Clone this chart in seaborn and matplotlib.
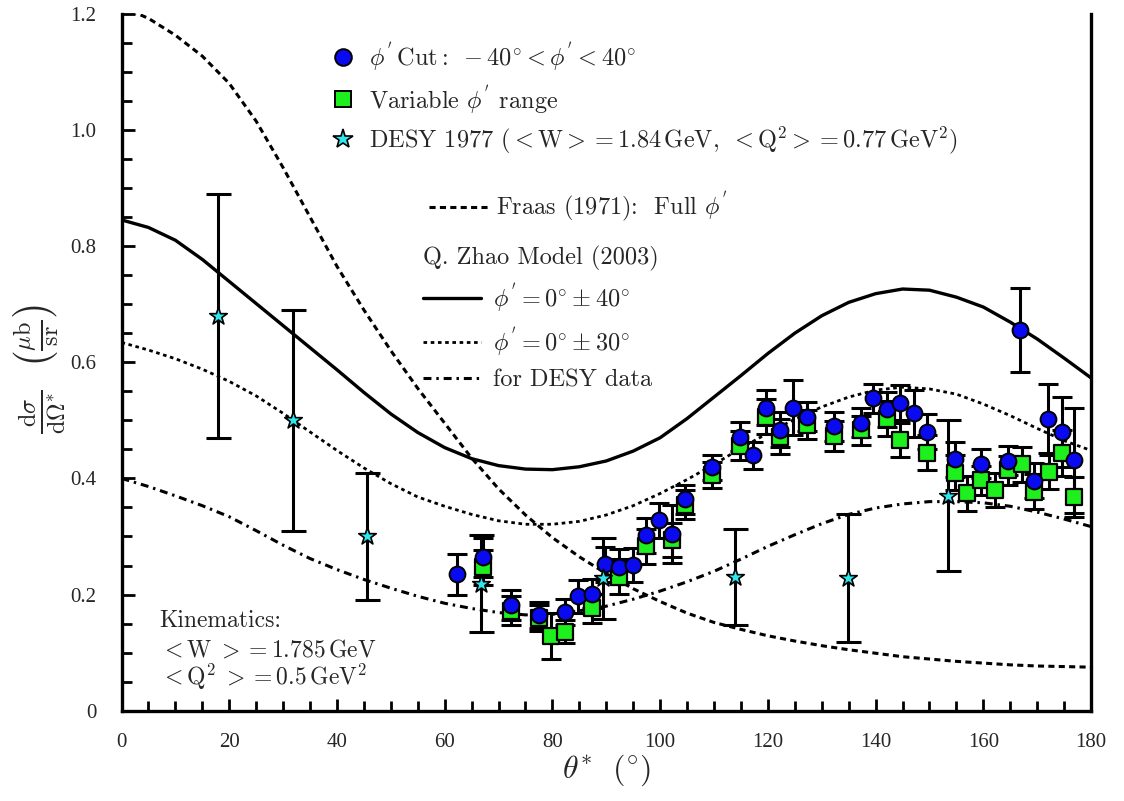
import matplotlib
matplotlib.use("Agg")
import numpy as np
import pandas as pd
import matplotlib.pyplot as plt
import seaborn as sns
from matplotlib.lines import Line2D
from matplotlib.ticker import MultipleLocator, FixedLocator, FixedFormatter

# ---------------- data ----------------
# phi' cut: -40 < phi' < 40 (blue circles)
circ_x = [62.3, 67.1, 72.3, 77.5, 82.3, 84.8, 87.4, 89.7, 92.3, 94.9, 97.3, 99.7,
          102.2, 104.7, 109.6, 114.8, 117.2, 119.7, 122.2, 124.7, 127.3, 132.2,
          137.2, 139.6, 142.1, 144.6, 147.1, 149.5, 154.7, 159.6, 164.6, 166.8,
          169.4, 172.0, 174.6, 176.9]
circ_y = [0.235, 0.264, 0.182, 0.165, 0.170, 0.197, 0.201, 0.252, 0.248, 0.251, 0.302, 0.328,
          0.305, 0.364, 0.419, 0.472, 0.440, 0.522, 0.484, 0.522, 0.506, 0.490,
          0.496, 0.538, 0.519, 0.530, 0.512, 0.480, 0.433, 0.425, 0.430, 0.655,
          0.396, 0.503, 0.480, 0.431]
circ_err = [0.035, 0.034, 0.025, 0.022, 0.023, 0.028, 0.025, 0.030, 0.030, 0.030, 0.030, 0.030,
            0.050, 0.025, 0.022, 0.025, 0.023, 0.030, 0.030, 0.048, 0.025, 0.025,
            0.025, 0.025, 0.030, 0.030, 0.040, 0.030, 0.030, 0.025, 0.025, 0.072,
            0.030, 0.060, 0.060, 0.090]

# variable phi' range (green squares)
sq_x = [67.1, 72.3, 77.5, 79.8, 82.3, 87.4, 92.3, 97.3, 102.2, 104.7, 109.6, 114.8,
        119.7, 122.2, 127.3, 132.2, 137.2, 142.1, 144.5, 149.5, 154.7, 156.9, 159.6,
        162.1, 164.6, 167.2, 169.4, 172.1, 174.6, 176.9]
sq_y = [0.247, 0.172, 0.160, 0.129, 0.136, 0.176, 0.231, 0.283, 0.294, 0.355, 0.406, 0.456,
        0.506, 0.472, 0.492, 0.473, 0.483, 0.503, 0.466, 0.444, 0.410, 0.374, 0.397,
        0.380, 0.414, 0.424, 0.377, 0.411, 0.444, 0.368]
sq_err = [0.030, 0.025, 0.022, 0.040, 0.020, 0.025, 0.030, 0.030, 0.030, 0.025, 0.022, 0.025,
          0.030, 0.030, 0.025, 0.025, 0.025, 0.030, 0.030, 0.030, 0.030, 0.030, 0.025,
          0.030, 0.025, 0.030, 0.030, 0.030, 0.040, 0.035]

# DESY 1977 (cyan stars)
star_x = [18.0, 31.9, 45.6, 66.8, 89.4, 113.9, 134.8, 153.4]
star_y = [0.680, 0.500, 0.300, 0.219, 0.228, 0.230, 0.229, 0.370]
star_err = [0.210, 0.190, 0.110, 0.083, 0.070, 0.082, 0.110, 0.130]

# model curves sampled every 5 degrees
theta = [0, 5, 10, 15, 20, 25, 30, 35, 40, 45, 50, 55, 60, 65, 70, 75, 80, 85, 90,
         95, 100, 105, 110, 115, 120, 125, 130, 135, 140, 145, 150, 155, 160, 165,
         170, 175, 180]
zhao_40 = [0.845, 0.832, 0.810, 0.777, 0.739, 0.701, 0.663, 0.625, 0.587, 0.548, 0.511,
           0.479, 0.453, 0.434, 0.422, 0.416, 0.415, 0.420, 0.430, 0.447, 0.470, 0.503,
           0.540, 0.577, 0.615, 0.650, 0.680, 0.703, 0.718, 0.726, 0.724, 0.712, 0.695,
           0.669, 0.640, 0.607, 0.573]
fraas = [1.212, 1.192, 1.163, 1.127, 1.080, 1.015, 0.935, 0.850, 0.765, 0.690, 0.620,
         0.555, 0.495, 0.435, 0.382, 0.337, 0.298, 0.265, 0.236, 0.210, 0.188, 0.168,
         0.152, 0.140, 0.129, 0.120, 0.112, 0.105, 0.099, 0.093, 0.089, 0.085, 0.082,
         0.079, 0.077, 0.076, 0.075]
zhao_30 = [0.634, 0.621, 0.606, 0.588, 0.567, 0.542, 0.512, 0.480, 0.448, 0.418, 0.391,
           0.368, 0.352, 0.338, 0.327, 0.321, 0.321, 0.326, 0.337, 0.353, 0.374, 0.398,
           0.424, 0.452, 0.478, 0.502, 0.523, 0.540, 0.552, 0.557, 0.554, 0.545, 0.528,
           0.508, 0.486, 0.465, 0.448]
zhao_desy = [0.400, 0.386, 0.370, 0.353, 0.334, 0.310, 0.285, 0.262, 0.243, 0.226, 0.211,
             0.197, 0.185, 0.176, 0.169, 0.165, 0.166, 0.172, 0.180, 0.192, 0.206, 0.222,
             0.240, 0.261, 0.283, 0.303, 0.322, 0.338, 0.349, 0.356, 0.360, 0.360, 0.358,
             0.352, 0.342, 0.330, 0.317]

xtick_vals = [0, 20, 40, 60, 80, 100, 120, 140, 160, 180]
xtick_labels = ["0", "20", "40", "60", "80", "100", "120", "140", "160", "180"]
ytick_vals = [0, 0.2, 0.4, 0.6, 0.8, 1.0, 1.2]
ytick_labels = ["0", "0.2", "0.4", "0.6", "0.8", "1.0", "1.2"]

# ---------------- style ----------------
sns.set_theme(style="ticks")
plt.rcParams["font.family"] = ["Liberation Serif", "DejaVu Serif"]
plt.rcParams["mathtext.fontset"] = "cm"

BLUE = "#0a0af0"
GREEN = "#1ef01e"
CYAN = "#2ee8ee"
CM = ["cmr10", "DejaVu Serif"]

fig = plt.figure(figsize=(11.24, 8.01), dpi=100)
ax = fig.add_axes([0.1081, 0.1127, 0.8626, 0.8702])
ax.set_facecolor("white")
fig.patch.set_facecolor("white")

curves = pd.DataFrame({"theta": theta, "z40": zhao_40, "fraas": fraas,
                       "z30": zhao_30, "zdesy": zhao_desy})

LS_FRAAS = (0, (2.0, 1.4))
LS_30 = (0, (1.3, 1.3))
LS_DESY = (0, (2.6, 1.6, 0.8, 1.6))

sns.lineplot(data=curves, x="theta", y="z40", ax=ax, color="black", lw=2.4,
             estimator=None, sort=False, zorder=2)
sns.lineplot(data=curves, x="theta", y="fraas", ax=ax, color="black", lw=2.2,
             linestyle=LS_FRAAS, estimator=None, sort=False, zorder=2)
sns.lineplot(data=curves, x="theta", y="z30", ax=ax, color="black", lw=2.0,
             linestyle=LS_30, estimator=None, sort=False, zorder=2)
sns.lineplot(data=curves, x="theta", y="zdesy", ax=ax, color="black", lw=2.2,
             linestyle=LS_DESY, estimator=None, sort=False, zorder=2)

# error bars
ax.errorbar(star_x, star_y, yerr=star_err, fmt="none", ecolor="black",
            elinewidth=2.2, capsize=9, capthick=2.2, zorder=3)
ax.errorbar(sq_x, sq_y, yerr=sq_err, fmt="none", ecolor="black",
            elinewidth=2.2, capsize=7.5, capthick=2.2, zorder=3)
ax.errorbar(circ_x, circ_y, yerr=circ_err, fmt="none", ecolor="black",
            elinewidth=2.2, capsize=7.5, capthick=2.2, zorder=3)

sns.scatterplot(x=sq_x, y=sq_y, ax=ax, marker="s", s=120, color=GREEN,
                edgecolor="black", linewidth=1.6, zorder=4)
sns.scatterplot(x=circ_x, y=circ_y, ax=ax, marker="o", s=130, color=BLUE,
                edgecolor="black", linewidth=1.4, zorder=5)
sns.scatterplot(x=star_x, y=star_y, ax=ax, marker="*", s=175, color=CYAN,
                edgecolor="black", linewidth=1.2, zorder=6)

# axes
ax.set_xlim(0, 180)
ax.set_ylim(0, 1.2)
ax.xaxis.set_major_locator(FixedLocator(xtick_vals))
ax.xaxis.set_major_formatter(FixedFormatter(xtick_labels))
ax.yaxis.set_major_locator(FixedLocator(ytick_vals))
ax.yaxis.set_major_formatter(FixedFormatter(ytick_labels))
ax.xaxis.set_minor_locator(MultipleLocator(5))
ax.yaxis.set_minor_locator(MultipleLocator(0.05))
ax.tick_params(axis="both", which="both", direction="in", color="black",
               width=2.0, top=False, right=False)
ax.tick_params(axis="both", which="major", length=9)
ax.tick_params(axis="both", which="minor", length=7)
ax.tick_params(axis="y", which="major", labelsize=15, pad=18)
ax.tick_params(axis="x", which="major", labelsize=15, pad=16)
for side in ["left", "bottom", "right"]:
    ax.spines[side].set_linewidth(2.4)
    ax.spines[side].set_color("black")
ax.spines["top"].set_visible(False)
ax.grid(False)

ax.set_xlabel(r"$\theta^{*}\ \ (^{\circ})$", fontsize=23, va="center")
ax.xaxis.set_label_coords(0.5, -0.085)
ax.set_ylabel(r"$\frac{\mathrm{d}\sigma}{\mathrm{d}\Omega^{*}}\ \ \left(\frac{\mu\mathrm{b}}{\mathrm{sr}}\right)$",
              fontsize=25, va="center")
ax.yaxis.set_label_coords(-0.084, 0.49)

# kinematics text
ax.text(7.1, 0.145, "Kinematics:", fontsize=17, va="baseline", ha="left", family=CM)
ax.text(7.1, 0.093, r"$<\mathrm{W}\ >=1.785\,\mathrm{GeV}$", fontsize=17, va="baseline", ha="left")
ax.text(7.1, 0.045, r"$<\mathrm{Q}^{2}\ >=0.5\,\mathrm{GeV}^{2}$", fontsize=17, va="baseline", ha="left")

LEG_FS = 17.5

# legend 1: data
h1 = [Line2D([], [], ls="", marker="o", markersize=12, mfc=BLUE, mec="black", mew=1.4),
      Line2D([], [], ls="", marker="s", markersize=11, mfc=GREEN, mec="black", mew=1.4),
      Line2D([], [], ls="", marker="*", markersize=15, mfc=CYAN, mec="black", mew=1.2)]
l1 = [r"$\phi^{'}\,\mathrm{Cut}:\ -40^{\circ} < \phi^{'} < 40^{\circ}$",
      r"Variable $\phi^{'}$ range",
      r"DESY 1977 $(<\mathrm{W}>=1.84\,\mathrm{GeV},\ <\mathrm{Q}^{2}>=0.77\,\mathrm{GeV}^{2})$"]
leg1 = ax.legend(h1, l1, loc="upper left", bbox_to_anchor=(0.203, 0.979), frameon=False,
                 prop={"family": CM, "size": LEG_FS}, handlelength=1.0,
                 handletextpad=0.6, labelspacing=0.38, borderpad=0.0)
ax.add_artist(leg1)

# legend 2: Fraas
h2 = [Line2D([], [], color="black", lw=2.2, linestyle=LS_FRAAS)]
l2 = [r"Fraas (1971):  Full $\phi^{'}$"]
leg2 = ax.legend(h2, l2, loc="upper left", bbox_to_anchor=(0.305, 0.764), frameon=False,
                 prop={"family": CM, "size": LEG_FS}, handlelength=2.4,
                 handletextpad=0.35, borderpad=0.0)
ax.add_artist(leg2)

# legend 3: Zhao model
h3 = [Line2D([], [], color="black", lw=2.4),
      Line2D([], [], color="black", lw=2.0, linestyle=LS_30),
      Line2D([], [], color="black", lw=2.2, linestyle=LS_DESY)]
l3 = [r"$\phi^{'} = 0^{\circ} \pm 40^{\circ}$",
      r"$\phi^{'} = 0^{\circ} \pm 30^{\circ}$",
      r"for DESY data"]
leg3 = ax.legend(h3, l3, loc="upper left", bbox_to_anchor=(0.298, 0.685), frameon=False,
                 prop={"family": CM, "size": LEG_FS}, handlelength=2.4,
                 handletextpad=0.5, labelspacing=0.45, borderpad=0.0,
                 title="Q. Zhao Model (2003)",
                 title_fontproperties={"family": CM, "size": LEG_FS}, alignment="left")

fig.savefig("out.png", dpi=100, facecolor="white")
